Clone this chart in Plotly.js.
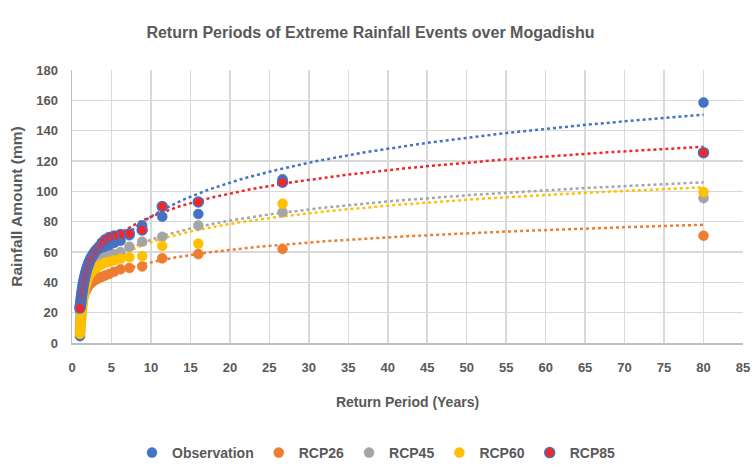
<!DOCTYPE html>
<html>
<head>
<meta charset="utf-8">
<script src="https://cdn.plot.ly/plotly-3.0.1.min.js"></script>
<style>html,body{margin:0;padding:0;background:#fff;}#chart{width:753px;height:468px;}</style>
</head>
<body>
<div id="chart"></div>
<script>
var returnPeriod = [80, 26.67, 16, 11.43, 8.89, 7.27, 6.15, 5.33, 4.71, 4.21, 3.81, 3.48, 3.2, 2.96, 2.76, 2.58, 2.42, 2.29, 2.16, 2.05, 1.95, 1.86, 1.78, 1.70, 1.63, 1.57, 1.51, 1.45, 1.40, 1.36, 1.31, 1.27, 1.23, 1.19, 1.16, 1.13, 1.10, 1.07, 1.04, 1.01];
var observation = [158.5, 108, 85, 83.3, 77.5, 71, 67.5, 66, 64.5, 63, 61.5, 60, 58.5, 57, 55.5, 54, 52.5, 51, 49.5, 48, 46.5, 45, 43.5, 42, 40, 38, 36, 34, 32, 30, 28, 26, 24, 22, 19.5, 17, 14, 11, 8, 4.5];
var rcp26 = [70.7, 62, 58.6, 55.8, 50.5, 49.5, 48.6, 47, 45.5, 44.5, 43.7, 43, 42.3, 41.7, 41, 40.3, 39.7, 39, 38.2, 37.5, 36.8, 36, 35.3, 34.6, 33.8, 33, 32.3, 31.5, 30.8, 30, 29.2, 28.4, 27.5, 26.6, 25.7, 24.8, 24, 23, 22, 21];
var rcp45 = [95.5, 86.2, 77.5, 70, 66.8, 63.5, 60, 58.5, 57.5, 56.5, 55.5, 54.5, 53.5, 52.5, 51.5, 50.5, 49.5, 48.5, 47.5, 46.5, 45.5, 44.5, 43.5, 42.5, 41, 39.5, 38, 36.5, 35, 33, 31, 29, 27, 25, 23, 21, 18.5, 16, 13, 10];
var rcp60 = [99.5, 91.8, 65.5, 64, 57.3, 56.5, 55.5, 54.5, 53.5, 53, 52, 51, 50.5, 49.5, 48.5, 47.5, 46.5, 45.5, 44.5, 43.5, 42, 40.5, 39, 37.5, 36, 34, 32, 30, 28, 26, 24, 22, 20, 18, 16, 14, 12, 10, 8, 6];
var rcp85 = [125.5, 106, 93, 90, 74.5, 72, 71.5, 70.5, 69.5, 68, 66, 63.5, 62, 60.5, 59, 57.5, 56, 54.5, 53, 51.5, 50, 48.5, 47, 45.5, 44, 42.5, 41, 39.5, 38, 36.5, 35, 33.5, 32, 30.5, 29, 27.5, 26, 25, 24, 23];

// Logarithmic trendline coefficients (y = slope * ln(x) + intercept)
var trendSlope = [32.3, 11.9, 18.2, 17.4, 22.2];
var trendIntercept = [9.0, 25.8, 26.2, 26.4, 32.1];

var seriesNames = ['Observation', 'RCP26', 'RCP45', 'RCP60', 'RCP85'];
var seriesValues = [observation, rcp26, rcp45, rcp60, rcp85];
var fillColors = ['#4472C4', '#ED7D31', '#A5A5A5', '#FFC000', '#F02828'];
var lineColors = ['#4472C4', '#ED7D31', '#A5A5A5', '#FFC000', '#4472C4'];
var trendColors = ['#4472C4', '#ED7D31', '#A5A5A5', '#FFC000', '#F02828'];

var traces = [];
var xmin = Math.min.apply(null, returnPeriod), xmax = Math.max.apply(null, returnPeriod);
for (var s = 0; s < seriesNames.length; s++) {
  var tx = [], ty = [];
  for (var k = 0; k <= 200; k++) {
    var xv = xmin + (xmax - xmin) * k / 200;
    tx.push(xv); ty.push(trendSlope[s] * Math.log(xv) + trendIntercept[s]);
  }
  traces.push({
    x: tx, y: ty, type: 'scatter', mode: 'lines', showlegend: false, hoverinfo: 'skip',
    line: {color: trendColors[s], width: 2.5, dash: 'dot'}
  });
}
for (var s2 = 0; s2 < seriesNames.length; s2++) {
  traces.push({
    x: returnPeriod, y: seriesValues[s2], type: 'scatter', mode: 'markers', name: seriesNames[s2],
    marker: {color: fillColors[s2], size: 10, line: {color: lineColors[s2], width: s2 === 4 ? 1.5 : 0.5}}
  });
}

var fontFam = 'Liberation Sans, Arial, sans-serif';
var layout = {
  width: 753, height: 468,
  margin: {l: 72, r: 10, t: 70, b: 125, autoexpand: false},
  paper_bgcolor: '#ffffff', plot_bgcolor: '#ffffff',
  font: {family: fontFam, color: '#595959'},
  title: {text: '<b>Return Periods of Extreme Rainfall Events over Mogadishu</b>', font: {size: 16, color: '#595959', family: fontFam}, x: 0.492, xanchor: 'center', y: 0.93, yanchor: 'middle'},
  xaxis: {
    range: [0, 85], tickmode: 'linear', tick0: 0, dtick: 5,
    showgrid: true, gridcolor: '#D9D9D9', gridwidth: 1.5,
    showline: true, linecolor: '#BFBFBF', linewidth: 1.5, mirror: false,
    zeroline: false, ticks: '', ticklabelstandoff: 12,
    tickfont: {size: 13, color: '#595959', family: fontFam, weight: 'bold'},
    title: {text: '<b>Return Period (Years)</b>', font: {size: 14, color: '#595959', family: fontFam}, standoff: 23}
  },
  yaxis: {
    range: [0, 180], tickmode: 'linear', tick0: 0, dtick: 20,
    showgrid: true, gridcolor: '#D9D9D9', gridwidth: 1.5,
    showline: true, linecolor: '#BFBFBF', linewidth: 1.5,
    zeroline: false, ticks: '', ticklabelstandoff: 10,
    tickfont: {size: 13, color: '#595959', family: fontFam, weight: 'bold'},
    title: {text: '<b>Rainfall Amount (mm)</b>', font: {size: 15.5, color: '#595959', family: fontFam}, standoff: 10}
  },
  legend: {
    orientation: 'h', xref: 'container', yref: 'container',
    x: 0.5, xanchor: 'center', y: 0.032, yanchor: 'middle',
    font: {size: 14, color: '#595959', family: fontFam, weight: 'bold'},
    itemwidth: 30, tracegroupgap: 0
  },
  showlegend: true
};
Plotly.newPlot('chart', traces, layout, {displayModeBar: false, staticPlot: true});
</script>
</body>
</html>
